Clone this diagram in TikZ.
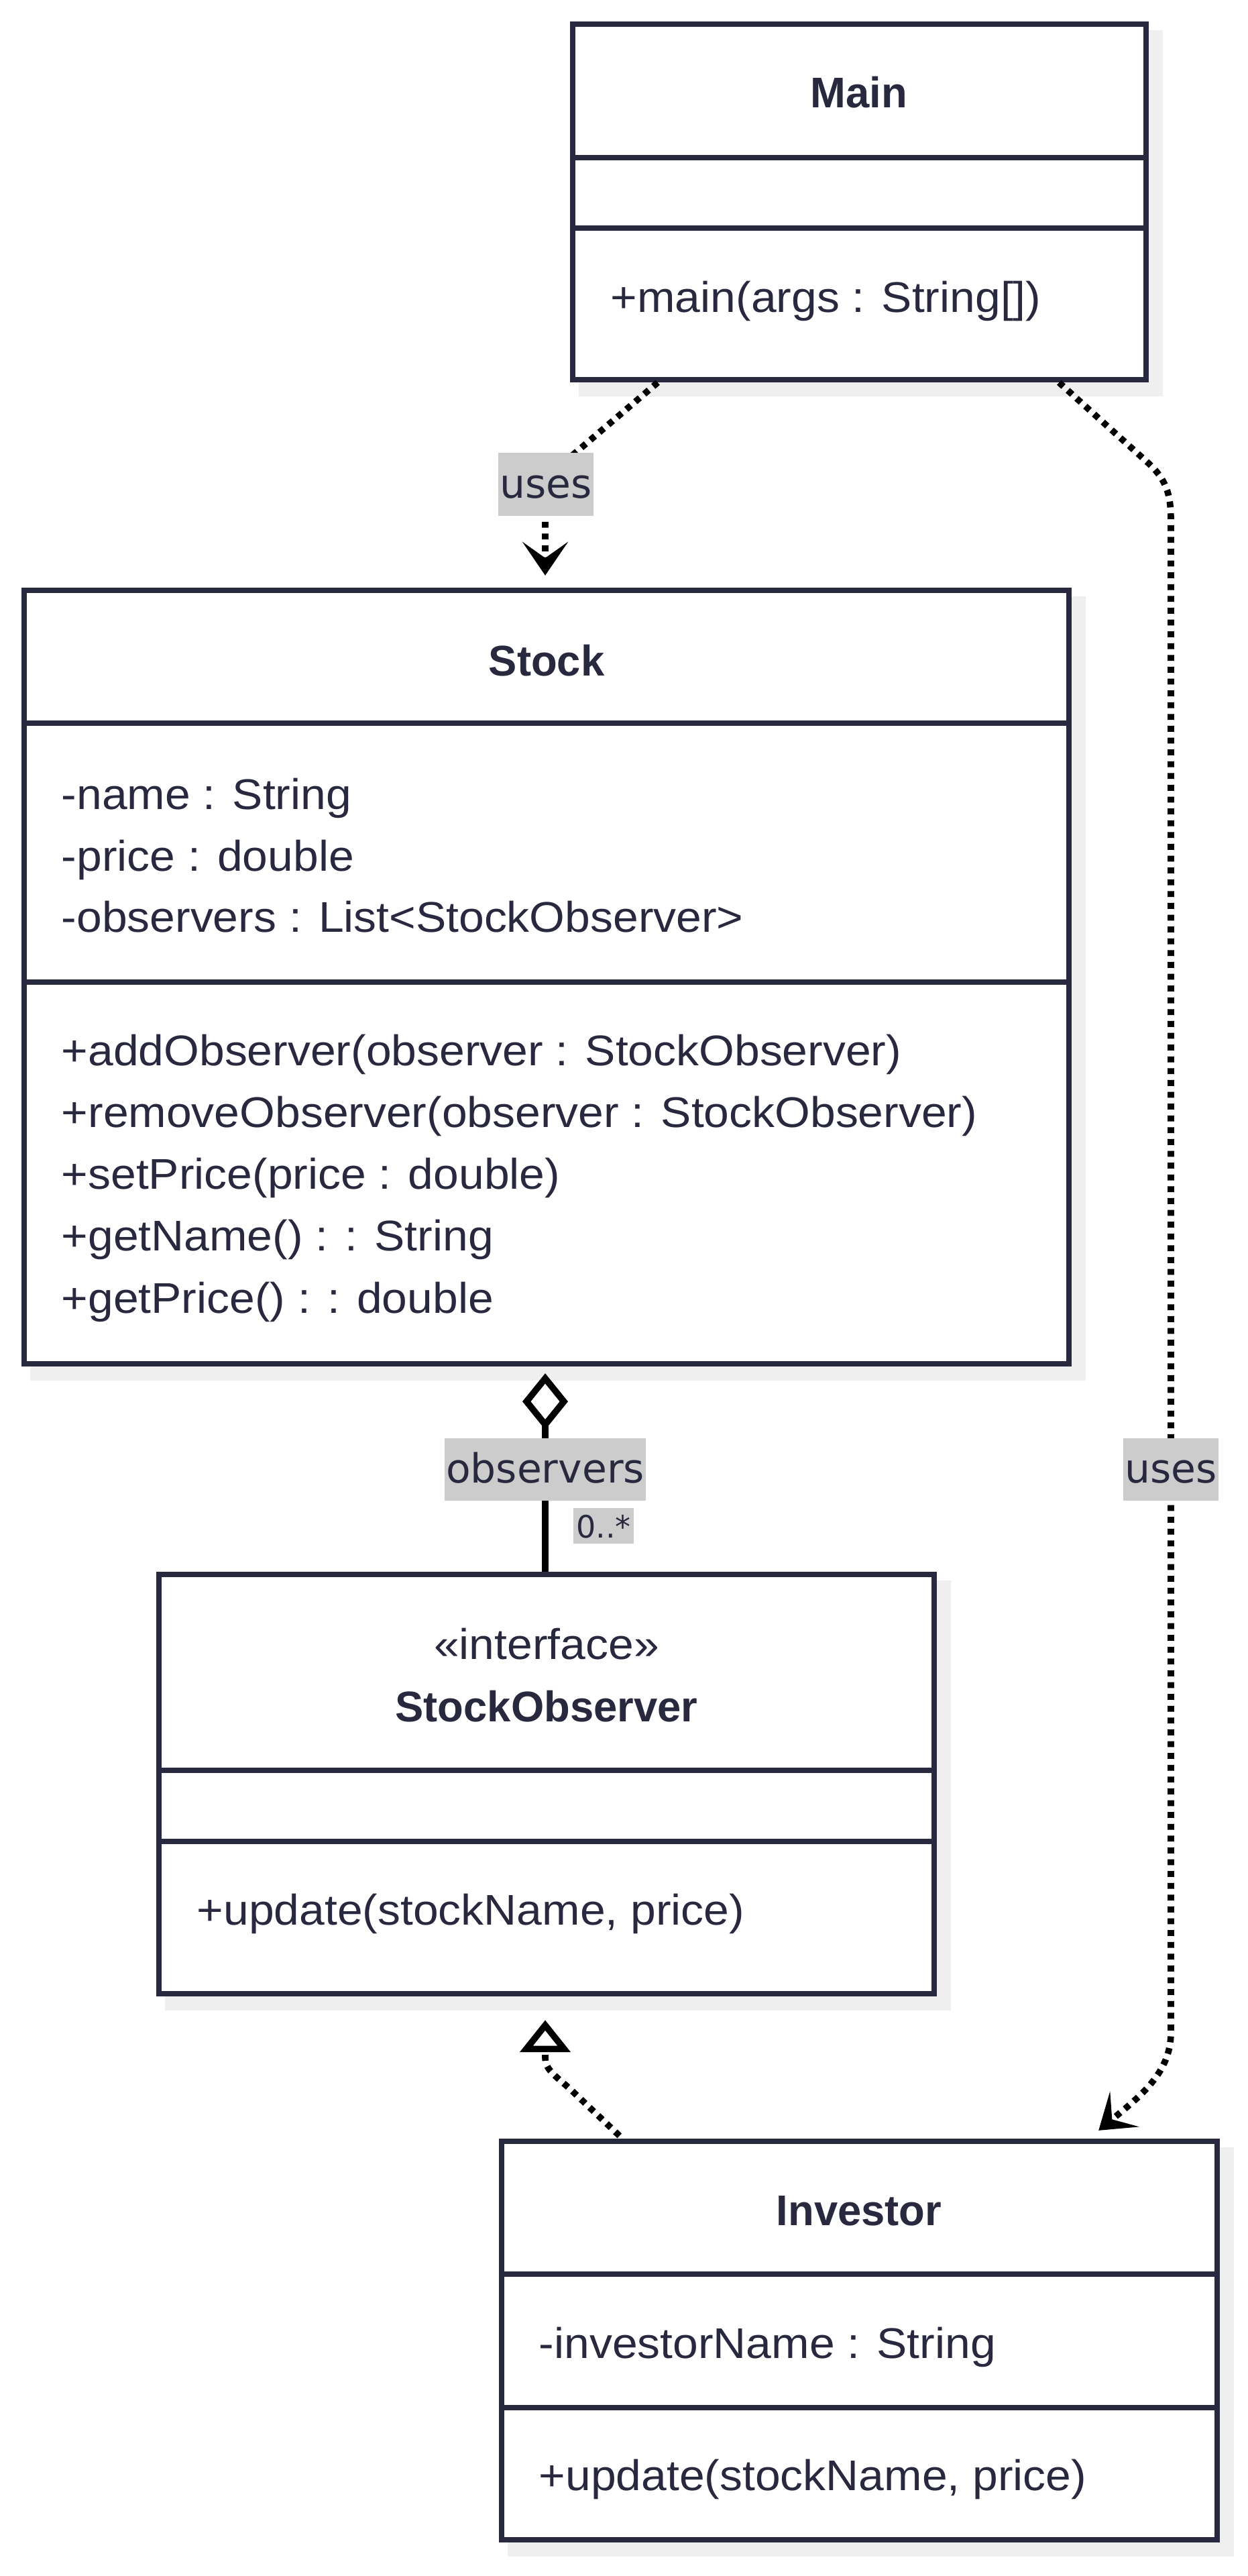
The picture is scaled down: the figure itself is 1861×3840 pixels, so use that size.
\documentclass[tikz,border=0pt]{standalone}
\usepackage{fontspec}
\setmainfont{Liberation Sans}[FakeStretch=1.06]
\newfontfamily\ttlfont{Liberation Sans}[FakeStretch=0.99]
\newfontfamily\lblfont{DejaVu Sans}
\usetikzlibrary{arrows.meta,fit,calc,backgrounds}
\definecolor{bordc}{RGB}{40,40,62}
\definecolor{shadc}{RGB}{239,239,239}
\definecolor{lblbg}{RGB}{204,204,204}
\begin{document}
\begin{tikzpicture}[x=0.25pt,y=-0.25pt,
  cls/.style={draw=bordc, line width=2.1pt, fill=white, inner sep=0pt},
  div/.style={draw=bordc, line width=2.1pt},
  mem/.style={anchor=base west, inner sep=0pt, text=bordc, font=\fontsize{16}{19}\selectfont},
  ttl/.style={anchor=base, inner sep=0pt, text=bordc, font=\ttlfont\fontsize{16}{19}\selectfont\bfseries},
  ster/.style={anchor=base, inner sep=0pt, text=bordc, font=\fontsize{16}{19}\selectfont},
  lbl/.style={fill=lblbg, text=bordc, font=\lblfont\fontsize{15}{18}\selectfont, inner xsep=0.6pt, inner ysep=6.5pt, text height=10.25pt, text depth=0pt},
  mult/.style={fill=lblbg, text=bordc, font=\lblfont\fontsize{11.5}{14}\selectfont, inner xsep=1pt, inner ysep=2.2pt, text height=8.8pt, text depth=0pt},
  dotline/.style={draw=black, line width=2.4pt, dash pattern=on 2.2pt off 2.2pt},
  dep/.style={dotline, -{Stealth[length=12.5pt,width=17pt,inset=6pt]}},
  real/.style={dotline, -{Triangle[open,length=12pt,width=18.5pt]}},
  agg/.style={draw=black, line width=2.4pt, {Diamond[open,length=21pt,width=17pt]}-},
  shad/.style={fill=shadc}
]
\useasboundingbox (0,0) rectangle (1861,3840);

% class boxes
\node[cls, fit={(854,36) (1709,566)}] (main) {};
\node[cls, fit={(36,880) (1594,2033)}] (stock) {};
\node[cls, fit={(237,2347) (1393,2972)}] (so) {};
\node[cls, fit={(748,3192) (1815,3786)}] (inv) {};

\begin{scope}[on background layer]
  \fill[shad] ($(main.north west)+(13,13)$) rectangle ($(main.south east)+(21,21)$);
  \fill[shad] ($(stock.north west)+(13,13)$) rectangle ($(stock.south east)+(21,21)$);
  \fill[shad] ($(so.north west)+(13,13)$) rectangle ($(so.south east)+(21,21)$);
  \fill[shad] ($(inv.north west)+(13,13)$) rectangle ($(inv.south east)+(21,21)$);
\end{scope}

% dividers
\draw[div] (main.west |- 0,235) -- (main.east |- 0,235);
\draw[div] (main.west |- 0,340) -- (main.east |- 0,340);
\draw[div] (stock.west |- 0,1078) -- (stock.east |- 0,1078);
\draw[div] (stock.west |- 0,1464) -- (stock.east |- 0,1464);
\draw[div] (so.west |- 0,2639) -- (so.east |- 0,2639);
\draw[div] (so.west |- 0,2745) -- (so.east |- 0,2745);
\draw[div] (inv.west |- 0,3390) -- (inv.east |- 0,3390);
\draw[div] (inv.west |- 0,3589) -- (inv.east |- 0,3589);

% texts
\node[ttl] (mainT) at (1281,161) {Main};
\node[mem] (mainM1) at (910,466) {+main(args : String[])};

\node[ttl] (stockT) at (815,1007) {Stock};
\node[mem] (stockA1) at (91,1206) {-name : String};
\node[mem] (stockA2) at (91,1298) {-price : double};
\node[mem] (stockA3) at (91,1389) {-observers : List<StockObserver>};
\node[mem] (stockM1) at (91,1588) {+addObserver(observer : StockObserver)};
\node[mem] (stockM2) at (91,1680) {+removeObserver(observer : StockObserver)};
\node[mem] (stockM3) at (91,1772) {+setPrice(price : double)};
\node[mem] (stockM4) at (91,1864) {+getName() : : String};
\node[mem] (stockM5) at (91,1957) {+getPrice() : : double};

\node[ster] (soS) at (815,2473) {«interface»};
\node[ttl] (soT) at (815,2566) {StockObserver};
\node[mem] (soM1) at (293,2869) {+update(stockName, price)};

\node[ttl] (invT) at (1281,3317) {Investor};
\node[mem] (invA1) at (803,3515) {-investorName : String};
\node[mem] (invM1) at (803,3712) {+update(stockName, price)};

% connectors
\draw[dep] ($(main.south west)+(131,0)$) -- (845,686) .. controls (825,703) and (813,715) .. (813,740) -- ($(stock.north)+(-2,-18)$);
\draw[dep] ($(main.south east)+(-134,0)$) -- (1712,690) .. controls (1738,714) and (1746,735) .. (1746,775) -- (1746,3030) .. controls (1746,3090) and (1700,3125) .. ($(inv.north east)+(-181,-12)$);
\draw[agg] ($(stock.south)+(-2,10)$) -- ($(so.north)+(-2,0)$);
\draw[real] ($(inv.north west)+(180,-4)$) -- (848,3112) .. controls (822,3090) and (813,3082) .. (813,3068) -- ($(so.south)+(-2,35)$);

% labels
\node[lbl] (l1) at (814,722) {uses};
\node[lbl] (l2) at (1746,2190) {uses};
\node[lbl] (l3) at (813,2190) {observers};
\node[mult] (l4) at (900,2274.5) {0..*};
\end{tikzpicture}
\end{document}
